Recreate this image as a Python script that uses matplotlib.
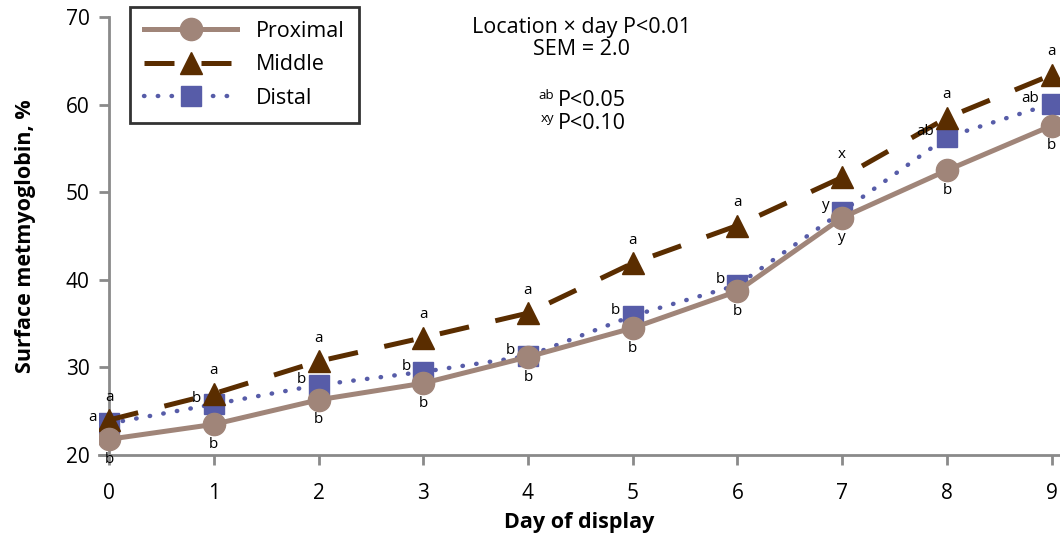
import numpy as np
import matplotlib
matplotlib.use('Agg')
import matplotlib.pyplot as plt

plt.rcParams['font.family'] = ['Open Sans', 'DejaVu Sans']

days = [0, 1, 2, 3, 4, 5, 6, 7, 8, 9]
proximal = [21.8, 23.5, 26.3, 28.2, 31.2, 34.5, 38.7, 47.1, 52.5, 57.6]
middle = [24.0, 27.0, 30.7, 33.4, 36.2, 41.9, 46.2, 51.7, 58.5, 63.4]
distal = [23.6, 25.8, 28.0, 29.5, 31.3, 35.9, 39.4, 47.8, 56.3, 60.1]

proximal_letters = ['b', 'b', 'b', 'b', 'b', 'b', 'b', 'y', 'b', 'b']
middle_letters = ['a', 'a', 'a', 'a', 'a', 'a', 'a', 'x', 'a', 'a']
distal_letters = ['a', 'b', 'b', 'b', 'b', 'b', 'b', 'y', 'ab', 'ab']

c_prox = '#a08579'
c_mid = '#5a2d00'
c_dist = '#575ca8'
grey = '#8a8a8a'

fig = plt.figure(figsize=(10.6, 5.43), dpi=100)
ax = fig.add_axes([0.093, 0.162, 0.907, 0.8066])

ax.plot(days, distal, color=c_dist, lw=3.2, ls=(0, (0.1, 3.0)),
        dash_capstyle='round', marker='s', ms=15, mec=c_dist,
        label='Distal', zorder=2)
ax.plot(days, middle, color=c_mid, lw=3.6, ls=(0, (6, 5.4)),
        marker='^', ms=16, mec=c_mid, label='Middle', zorder=3)
ax.plot(days, proximal, color=c_prox, lw=3.6, ls='-',
        marker='o', ms=16, mec=c_prox, label='Proximal', zorder=4)

for x, y, t in zip(days, proximal, proximal_letters):
    ax.annotate(t, (x, y), xytext=(0, -14.5), textcoords='offset points',
                ha='center', va='center', fontsize=11, zorder=6)
for x, y, t in zip(days, middle, middle_letters):
    ax.annotate(t, (x, y), xytext=(0, 16.5), textcoords='offset points',
                ha='center', va='center', fontsize=11, zorder=6)
for x, y, t in zip(days, distal, distal_letters):
    ax.annotate(t, (x, y), xytext=(-9, 4), textcoords='offset points',
                ha='right', va='center', fontsize=11, zorder=6)

ax.set_xlim(-0.1, 9.08)
ax.set_ylim(20, 70)
ax.set_xticks(days)
ax.set_yticks([20, 30, 40, 50, 60, 70])

ax.spines['top'].set_visible(False)
ax.spines['right'].set_visible(False)
ax.spines['left'].set_position(('data', 0))
for s in ['left', 'bottom']:
    ax.spines[s].set_color(grey)
    ax.spines[s].set_linewidth(2)
    ax.spines[s].set_zorder(1)
ax.tick_params(direction='out', length=7, width=2, color=grey,
               labelsize=15)
ax.tick_params(axis='x', pad=13)
ax.tick_params(axis='y', pad=7)

ax.set_xlabel('Day of display', fontsize=15.5, fontweight='bold', va='top')
ax.xaxis.set_label_coords(0.5, -0.13)
ax.set_ylabel('Surface metmyoglobin, %', fontsize=15.5, fontweight='bold')
ax.yaxis.set_label_coords(-0.065, 0.5)

h, l = ax.get_legend_handles_labels()
leg = ax.legend(h[::-1], l[::-1], loc='upper left',
                bbox_to_anchor=(0.033, 1.023), fontsize=15.5,
                handlelength=4.3, borderaxespad=0,
                frameon=True, fancybox=False, edgecolor='black',
                borderpad=0.65, labelspacing=0.58, handletextpad=0.9)
leg.get_frame().set_linewidth(2)

ax.text(0.502, 0.977, 'Location \u00d7 day P<0.01', transform=ax.transAxes,
        ha='center', va='center', fontsize=15.5)
ax.text(0.502, 0.925, 'SEM = 2.0', transform=ax.transAxes,
        ha='center', va='center', fontsize=15.5)
ax.text(0.478, 0.81, 'P<0.05', transform=ax.transAxes,
        ha='left', va='center', fontsize=15.5)
ax.text(0.4735, 0.822, 'ab', transform=ax.transAxes,
        ha='right', va='center', fontsize=9.5)
ax.text(0.478, 0.756, 'P<0.10', transform=ax.transAxes,
        ha='left', va='center', fontsize=15.5)
ax.text(0.4735, 0.768, 'xy', transform=ax.transAxes,
        ha='right', va='center', fontsize=9.5)

plt.savefig('out.png', dpi=100)
